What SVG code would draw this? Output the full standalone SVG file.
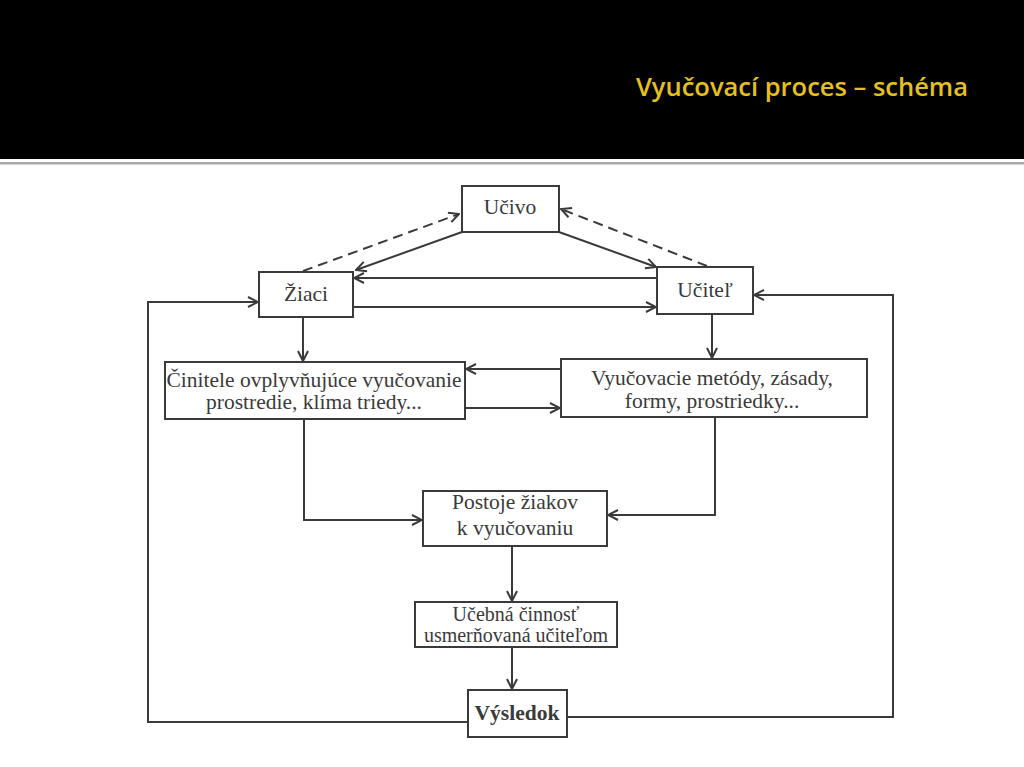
<svg xmlns="http://www.w3.org/2000/svg" width="1024" height="767" viewBox="0 0 1024 767">
<defs>
<style>
.box{fill:#fff;stroke:#3a3a3a;stroke-width:2}
.t{font-family:"Liberation Serif","Times New Roman",serif;font-size:21.5px;fill:#3a3a3a;text-anchor:middle}
.s{font-size:20px}
.b{font-weight:bold}
.c{fill:none;stroke:#3a3a3a;stroke-width:2}
.d{stroke-dasharray:10 6}
</style>
<marker id="ar" viewBox="0 0 12 12" refX="11" refY="6" markerWidth="12" markerHeight="12" markerUnits="userSpaceOnUse" orient="auto">
<path d="M1,1 L11,6 L1,11" fill="none" stroke="#3a3a3a" stroke-width="2"/>
</marker>
</defs>
<rect x="0" y="0" width="1024" height="767" fill="#fff"/>
<rect x="0" y="0" width="1024" height="159" fill="#000"/>
<rect x="0" y="162" width="1024" height="2.5" fill="#a8a8a8"/>
<text x="968" y="96" text-anchor="end" font-family="'Open Sans','Noto Sans',sans-serif" font-size="25.5" font-weight="600" fill="#e6c01e">Vyučovací proces – schéma</text>

<g id="connectors">
<path class="c" d="M462,232 L356,270" marker-end="url(#ar)"/>
<path class="c d" d="M303,271 L459,214" marker-end="url(#ar)"/>
<path class="c" d="M559,232 L656,267" marker-end="url(#ar)"/>
<path class="c d" d="M707,266 L561,209" marker-end="url(#ar)"/>
<path class="c" d="M657,278 L354,278" marker-end="url(#ar)"/>
<path class="c" d="M353,307 L656,307" marker-end="url(#ar)"/>
<path class="c" d="M303,317 L303,361" marker-end="url(#ar)"/>
<path class="c" d="M712,314 L712,358" marker-end="url(#ar)"/>
<path class="c" d="M561,369 L466,369" marker-end="url(#ar)"/>
<path class="c" d="M465,408 L560,408" marker-end="url(#ar)"/>
<path class="c" d="M304,419 L304,520 L422,520" marker-end="url(#ar)"/>
<path class="c" d="M715,417 L715,515 L608,515" marker-end="url(#ar)"/>
<path class="c" d="M512,546 L512,601" marker-end="url(#ar)"/>
<path class="c" d="M512,647 L512,689" marker-end="url(#ar)"/>
<path class="c" d="M468,722 L148,722 L148,302 L258,302" marker-end="url(#ar)"/>
<path class="c" d="M567,717 L893,717 L893,295 L754,295" marker-end="url(#ar)"/>
</g>

<g id="ucivo">
<rect class="box" x="462" y="186" width="97" height="46"/>
<text class="t" x="510" y="214">Učivo</text>
</g>
<g id="ziaci">
<rect class="box" x="259" y="272" width="94" height="45"/>
<text class="t" x="306" y="301">Žiaci</text>
</g>
<g id="ucitel">
<rect class="box" x="657" y="267" width="96" height="47"/>
<text class="t" x="705" y="297">Učiteľ</text>
</g>
<g id="cinitele">
<rect class="box" x="165" y="362" width="300" height="57"/>
<text class="t" x="314" y="387">Činitele ovplyvňujúce vyučovanie</text>
<text class="t" x="314" y="409">prostredie, klíma triedy...</text>
</g>
<g id="metody">
<rect class="box" x="561" y="359" width="306" height="58"/>
<text class="t" x="712" y="385">Vyučovacie metódy, zásady,</text>
<text class="t" x="712" y="408">formy, prostriedky...</text>
</g>
<g id="postoje">
<rect class="box" x="423" y="491" width="184" height="55"/>
<text class="t" x="515" y="509">Postoje žiakov</text>
<text class="t" x="515" y="535">k vyučovaniu</text>
</g>
<g id="ucebna">
<rect class="box" x="415" y="602" width="202" height="45"/>
<text class="t s" x="516" y="621">Učebná činnosť</text>
<text class="t s" x="516" y="642">usmerňovaná učiteľom</text>
</g>
<g id="vysledok">
<rect class="box" x="468" y="690" width="99" height="47"/>
<text class="t b" x="517" y="720">Výsledok</text>
</g>
</svg>
